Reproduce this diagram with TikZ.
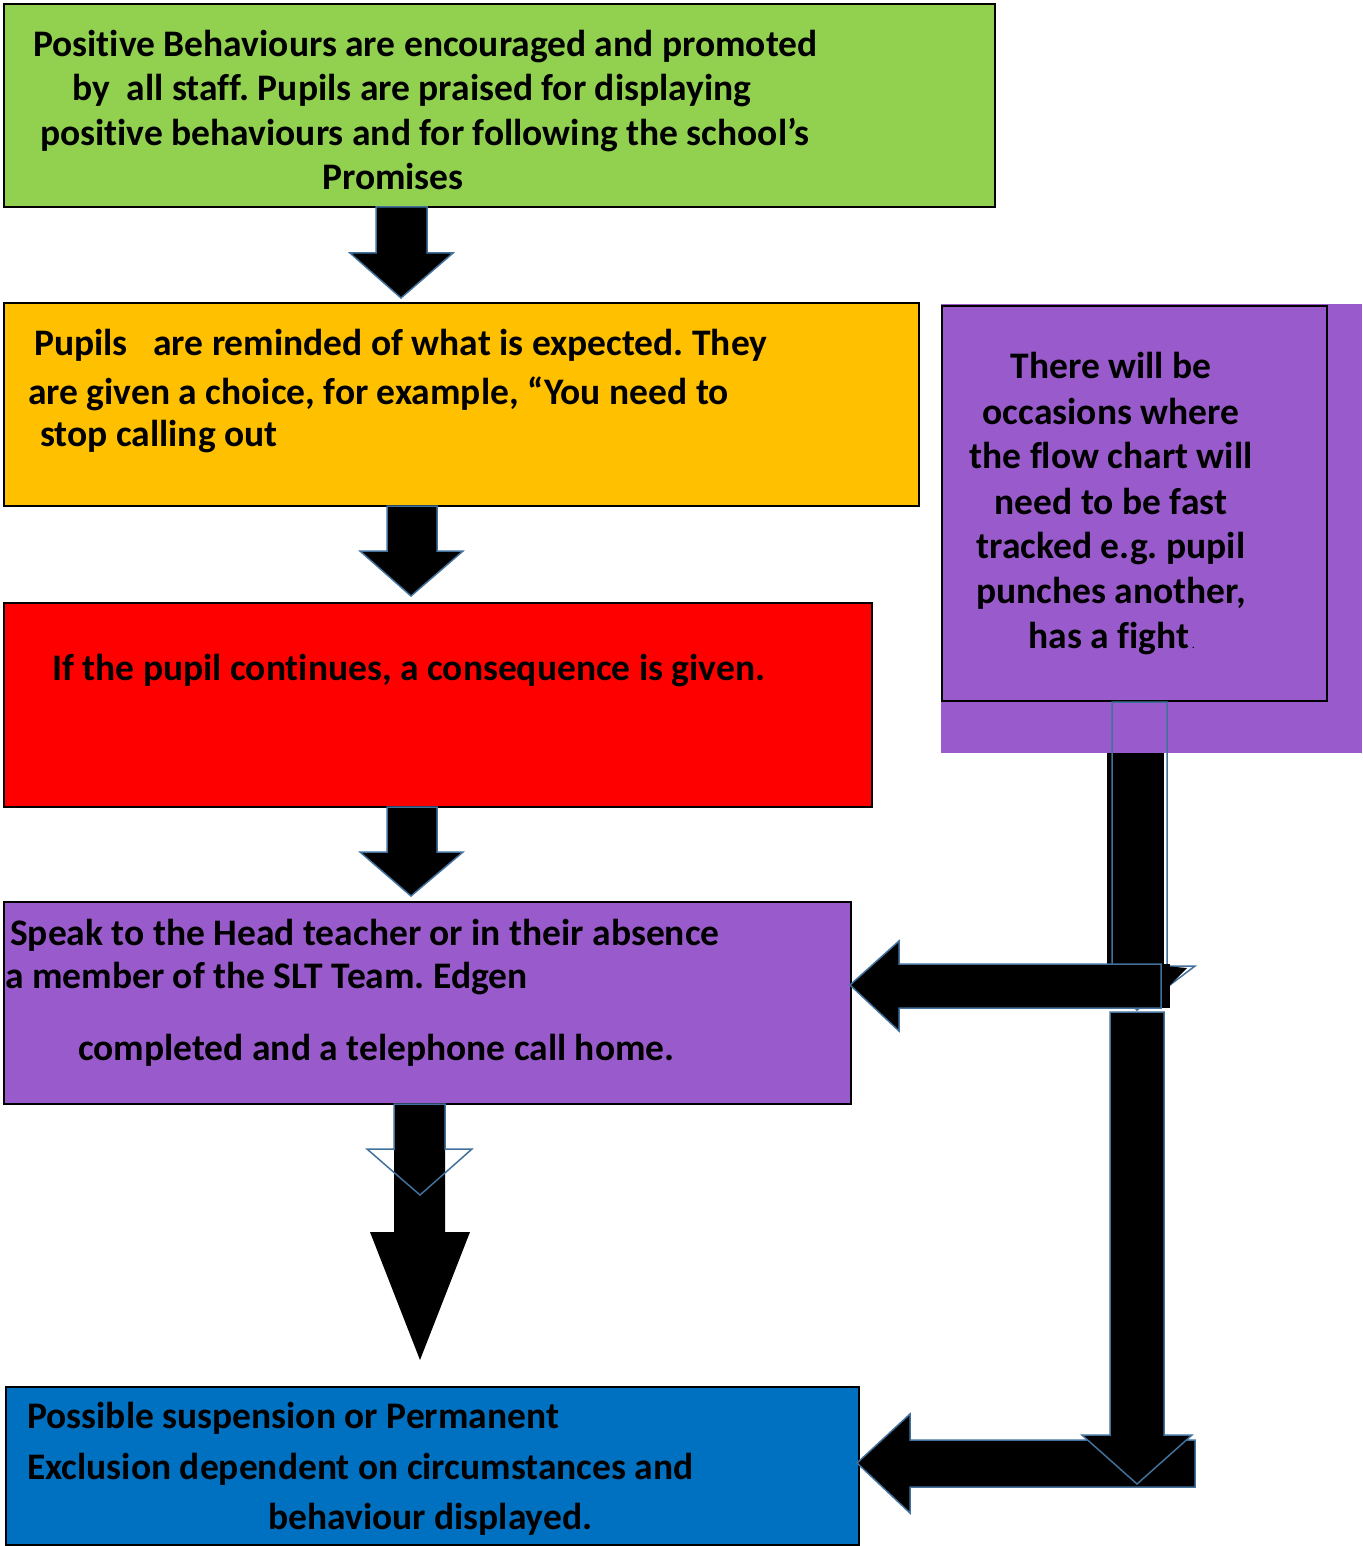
\documentclass[tikz,border=0pt]{standalone}
\usepackage{fontspec}
\setmainfont{Carlito}[Ligatures=NoCommon]
\frenchspacing
\definecolor{pgreen}{HTML}{92D050}
\definecolor{porange}{HTML}{FFC000}
\definecolor{pred}{HTML}{FF0000}
\definecolor{ppurple}{HTML}{995BCB}
\definecolor{pblue}{HTML}{0070C0}
\definecolor{arrowblue}{HTML}{41719C}
\begin{document}
\frenchspacing
\begin{tikzpicture}[x=1pt,y=-1pt,
  box/.style={draw=black, line width=2pt, anchor=north west, inner sep=0pt},
  txt/.style={anchor=base west, inner sep=0pt, font=\bfseries\fontsize{37.5}{44}\selectfont},
  ctxt/.style={anchor=base, inner sep=0pt, font=\bfseries\fontsize{37.5}{44}\selectfont},
  blk/.style={fill=black, draw=arrowblue, line width=1.5pt, line join=miter},
  outl/.style={draw=arrowblue, line width=1.5pt, line join=miter}]
\useasboundingbox (0,0) rectangle (1362,1546);
\fill[white] (0,0) rectangle (1362,1546);

% ---------- boxes ----------
\node[box, fill=pgreen, minimum width=991pt, minimum height=203pt] (b1) at (3,3) {};
\node[box, fill=porange, minimum width=915pt, minimum height=203pt] (b2) at (3,302) {};
\node[box, fill=pred, minimum width=868pt, minimum height=204pt] (b3) at (3,602) {};
\node[box, fill=ppurple, minimum width=847pt, minimum height=202pt] (b4) at (3,901) {};
\node[box, fill=pblue, minimum width=853pt, minimum height=158pt] (b5) at (5,1386) {};

% ---------- right side: upper vertical arrow (fill) ----------
\fill[black] (1107,702) rectangle (1164,968);
% purple side panel
\fill[ppurple] (941,304) rectangle (1362,753);
\node[box, fill=ppurple, minimum width=385pt, minimum height=395pt] (b6) at (941,305) {};
% outline of the upper vertical arrow
\draw[outl] (1112,702) -- (1167,702) -- (1167,966) -- (1195,966) -- (1137,1010) -- (1085,966) -- (1112,966) -- cycle;
\fill[black] (1164,966) -- (1187,968) -- (1170,985) -- (1164,985) -- cycle;

% ---------- down arrows between boxes ----------
\draw[blk] (376,207) -- (427,207) -- (427,253) -- (453,253) -- (401,298) -- (350,253) -- (376,253) -- cycle;
\draw[blk] (387,506) -- (437,506) -- (437,551) -- (463,551) -- (411,596) -- (360,551) -- (387,551) -- cycle;
\draw[blk] (387,807) -- (437,807) -- (437,852) -- (463,852) -- (411,896) -- (360,852) -- (387,852) -- cycle;

% ---------- big arrow from box 4 to box 5 ----------
\fill[black] (394,1104) -- (445,1104) -- (445,1232) -- (470,1232) -- (420,1360) -- (370,1232) -- (394,1232) -- cycle;
\draw[outl] (394,1104) -- (445,1104) -- (445,1149) -- (472,1149) -- (420,1195) -- (367,1149) -- (394,1149) -- cycle;

% ---------- horizontal arrow into box 4 ----------
\fill[black] (1150,964) rectangle (1170,1008);
\draw[blk] (850,985) -- (899,941) -- (899,964) -- (1161,964) -- (1161,1008) -- (899,1008) -- (899,1031) -- cycle;

% ---------- horizontal arrow into box 5 ----------
\draw[blk] (857,1463) -- (910,1414) -- (910,1440) -- (1195,1440) -- (1195,1487) -- (910,1487) -- (910,1513) -- cycle;
% ---------- lower vertical arrow ----------
\draw[blk] (1110,1012) -- (1164,1012) -- (1164,1435) -- (1192,1435) -- (1137,1484) -- (1082,1435) -- (1110,1435) -- cycle;

% ---------- texts ----------
\node[txt] (t1a) at (33,57) {Positive Behaviours are encouraged and promoted};
\node[txt] (t1b) at (72,101) {by\ \ all staff. Pupils are praised for displaying};
\node[txt] (t1c) at (40,146) {positive behaviours and for following the school’s};
\node[ctxt] (t1d) at (393,190) {Promises};

\node[txt] (t2a) at (34,355) {Pupils\ \ \ are reminded of what is expected. They};
\node[txt] (t2b) at (28,404) {are given a choice, for example, “You need to};
\node[txt] (t2c) at (40,446) {stop calling out};

\node[txt] (t3a) at (52,680) {If the pupil continues, a consequence is given.};

\node[txt] (t4a) at (10,945) {Speak to the Head teacher or in their absence};
\node[txt] (t4b) at (5,988) {a member of the SLT Team. Edgen};
\node[txt] (t4c) at (78,1060) {completed and a telephone call home.};

\node[txt] (t5a) at (27,1428) {Possible suspension or Permanent};
\node[txt] (t5b) at (27,1479) {Exclusion dependent on circumstances and};
\node[txt] (t5c) at (268,1529) {behaviour displayed.};

\node[ctxt] (t6a) at (1111,378) {There will be};
\node[ctxt] (t6b) at (1111,424) {occasions where};
\node[ctxt] (t6c) at (1111,468) {the flow chart will};
\node[ctxt] (t6d) at (1111,514) {need to be fast};
\node[ctxt] (t6e) at (1111,558) {tracked e.g. pupil};
\node[ctxt] (t6f) at (1111,603) {punches another,};
\node[ctxt] (t6g) at (1109,648) {has a fight};
\node[anchor=base west, inner sep=0pt, font=\fontsize{12}{12}\selectfont] (t6h) at (t6g.base east) {\,.};
\end{tikzpicture}
\end{document}
